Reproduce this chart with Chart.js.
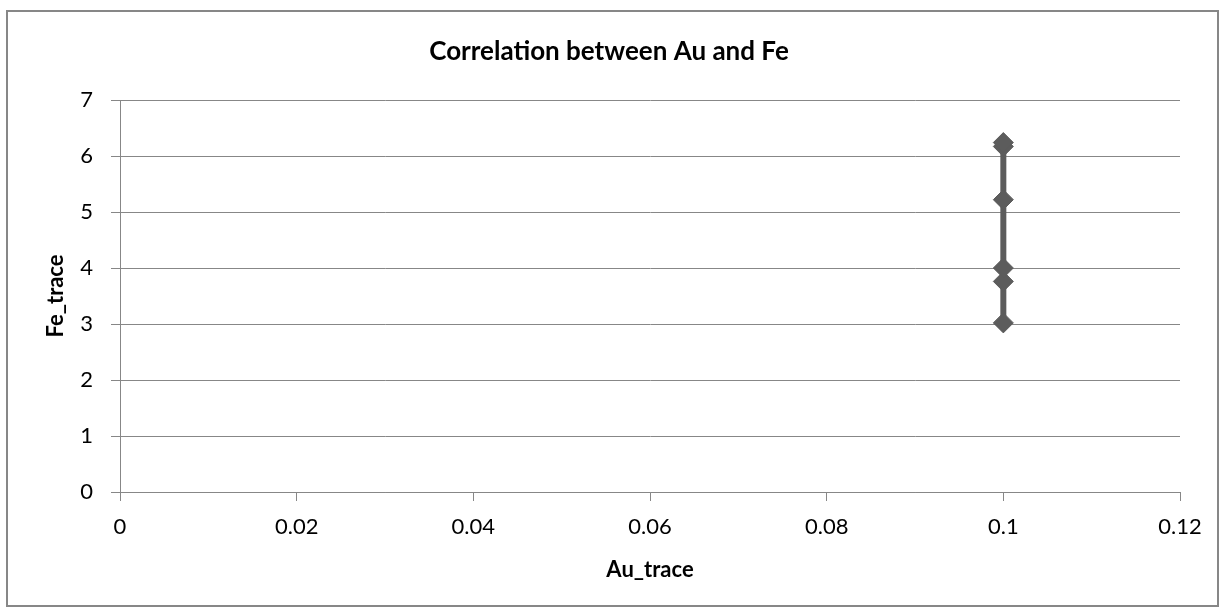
<!DOCTYPE html>
<html>
<head>
<meta charset="utf-8">
<script src="https://cdn.jsdelivr.net/npm/chart.js@4/dist/chart.umd.min.js"></script>
<style>
  html, body { margin: 0; padding: 0; background: #ffffff; }
  canvas { display: block; }
</style>
</head>
<body>
<canvas id="chart" width="1224" height="612"></canvas>
<script>
// Sample values: Au_trace (x) against Fe_trace (y)
const auTrace = [0.1, 0.1, 0.1, 0.1, 0.1, 0.1];
const feTrace = [3.02, 3.76, 4.0, 5.22, 6.17, 6.24];

// Axis tick labels
const xTickLabels = ['0', '0.02', '0.04', '0.06', '0.08', '0.1', '0.12'];
const yTickLabels = ['0', '1', '2', '3', '4', '5', '6', '7'];

const chartTitle = 'Correlation between Au and Fe';
const xTitle = 'Au_trace';
const yTitle = 'Fe_trace';

const FONT = 'Lato, "Liberation Sans", sans-serif';
const MARK = '#5c5c5c';
const AXIS = '#878787';

const points = auTrace.map((x, i) => ({ x: x, y: feTrace[i] }));

// White background and the outer frame around the whole chart
const framePlugin = {
  id: 'frame',
  beforeDraw(chart) {
    const ctx = chart.ctx;
    ctx.save();
    ctx.fillStyle = '#ffffff';
    ctx.fillRect(0, 0, chart.width, chart.height);
    ctx.restore();
  },
  afterDraw(chart) {
    const ctx = chart.ctx;
    ctx.save();
    ctx.strokeStyle = AXIS;
    ctx.lineWidth = 2;
    ctx.strokeRect(7, 11, 1211, 595);
    ctx.restore();
  }
};

new Chart(document.getElementById('chart'), {
  type: 'scatter',
  data: {
    datasets: [{
      label: yTitle,
      data: points,
      showLine: true,
      borderColor: MARK,
      backgroundColor: MARK,
      borderWidth: 6,
      pointStyle: 'rectRot',
      pointRadius: 10,
      pointBorderWidth: 1,
      pointBorderColor: MARK,
      pointBackgroundColor: MARK
    }]
  },
  options: {
    responsive: false,
    animation: false,
    devicePixelRatio: 1,
    layout: { padding: { top: 0, left: 38, right: 44, bottom: 0 } },
    plugins: {
      legend: { display: false },
      tooltip: { enabled: false },
      title: {
        display: true,
        text: chartTitle,
        color: '#000000',
        font: { family: FONT, size: 26, weight: 'bold', lineHeight: 1.2 },
        padding: { top: 36.4, bottom: 32.4 }
      }
    },
    scales: {
      x: {
        type: 'linear',
        position: 'bottom',
        min: 0,
        max: 0.12,
        afterFit(scale) { scale.height = 120; },
        ticks: {
          stepSize: 0.02,
          autoSkip: false,
          maxRotation: 0,
          padding: 13,
          color: '#000000',
          font: { family: FONT, size: 22 },
          callback: (value, index) => xTickLabels[index]
        },
        grid: {
          drawOnChartArea: false,
          drawTicks: true,
          tickLength: 9,
          color: AXIS,
          lineWidth: 1
        },
        border: { display: true, color: AXIS, width: 1 },
        title: {
          display: true,
          text: xTitle,
          color: '#000000',
          font: { family: FONT, size: 22, weight: 'bold', lineHeight: 1.2 },
          padding: { top: 0, bottom: 29 }
        }
      },
      y: {
        type: 'linear',
        min: 0,
        max: 7,
        afterFit(scale) { scale.width = 82; },
        ticks: {
          stepSize: 1,
          autoSkip: false,
          padding: 18,
          color: '#000000',
          font: { family: FONT, size: 22 },
          callback: (value, index) => yTickLabels[index]
        },
        grid: {
          drawOnChartArea: true,
          drawTicks: true,
          tickLength: 9,
          color: AXIS,
          lineWidth: 1
        },
        border: { display: true, color: AXIS, width: 1 },
        title: {
          display: true,
          text: yTitle,
          color: '#000000',
          font: { family: FONT, size: 22, weight: 'bold', lineHeight: 1.2 },
          padding: { top: 5, bottom: 0 }
        }
      }
    }
  },
  plugins: [framePlugin]
});
</script>
</body>
</html>
